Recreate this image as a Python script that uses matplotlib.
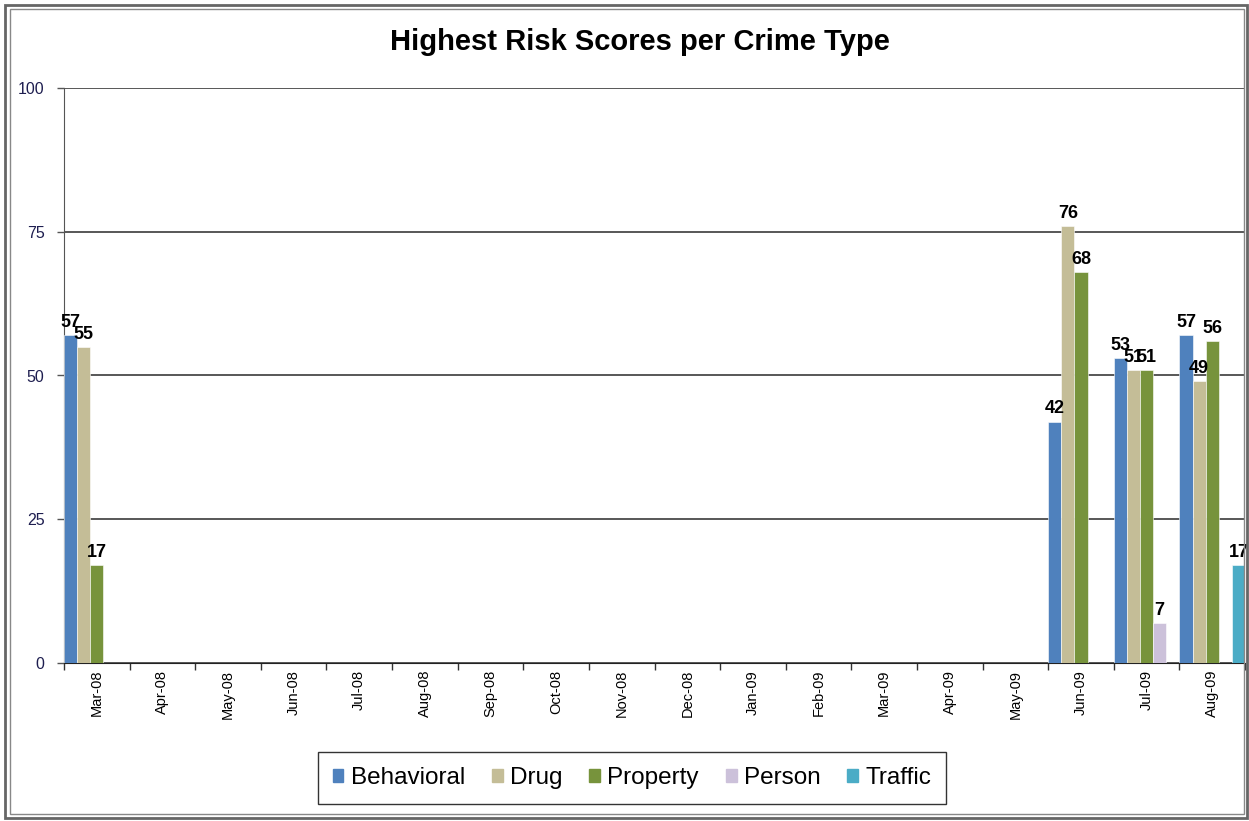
import matplotlib
matplotlib.use("Agg")
import matplotlib.pyplot as plt
import matplotlib.patches as mpatches
import numpy as np

plt.rcParams["font.family"] = ["Liberation Sans", "DejaVu Sans"]

months = ["Mar-08", "Apr-08", "May-08", "Jun-08", "Jul-08", "Aug-08", "Sep-08",
          "Oct-08", "Nov-08", "Dec-08", "Jan-09", "Feb-09", "Mar-09", "Apr-09",
          "May-09", "Jun-09", "Jul-09", "Aug-09"]

N = None
behavioral = [57, N, N, N, N, N, N, N, N, N, N, N, N, N, N, 42, 53, 57]
drug = [55, N, N, N, N, N, N, N, N, N, N, N, N, N, N, 76, 51, 49]
prop = [17, N, N, N, N, N, N, N, N, N, N, N, N, N, N, 68, 51, 56]
person = [N, N, N, N, N, N, N, N, N, N, N, N, N, N, N, N, 7, N]
traffic = [N, N, N, N, N, N, N, N, N, N, N, N, N, N, N, N, N, 17]

series = [
    ("Behavioral", behavioral, "#4F81BD"),
    ("Drug", drug, "#C4BD97"),
    ("Property", prop, "#77933C"),
    ("Person", person, "#CCC1DA"),
    ("Traffic", traffic, "#4BACC6"),
]

W, H = 1249, 821
fig = plt.figure(figsize=(W / 100, H / 100), dpi=100)
ax = fig.add_axes([64 / W, 1 - 663 / H, (1245 - 64) / W, (663 - 88) / H])

n = len(months)
x = np.arange(n)
bw = 1.0 / len(series)
handles = []
for i, (name, vals, col) in enumerate(series):
    v = np.array([np.nan if a is None else a for a in vals], dtype=float)
    pos = x - 0.5 + bw * (i + 0.5)
    bars = ax.bar(pos, np.nan_to_num(v), width=bw, color=col, edgecolor="white",
                  linewidth=0.4, zorder=3)
    for b, val in zip(bars, v):
        if not np.isnan(val):
            ax.annotate(f"{int(val)}", (b.get_x() + b.get_width() / 2, val),
                        xytext=(0, 3), textcoords="offset points",
                        ha="center", va="bottom", fontsize=13,
                        fontweight="bold", color="black", zorder=5)
    handles.append(mpatches.Patch(color=col, label=name))

ax.set_xlim(-0.5, n - 0.5)
ax.set_ylim(0, 100)
ax.set_yticks([0, 25, 50, 75, 100])
ax.yaxis.grid(True, color="#2a2a2a", linewidth=1.1, zorder=0)
ax.tick_params(axis="y", length=5, width=1, color="#555", pad=9,
               labelsize=11.5, labelcolor="#1e1e50")

ax.set_xticks(np.arange(n + 1) - 0.5)
ax.set_xticklabels([])
ax.tick_params(axis="x", which="major", length=5, width=1, color="#333")
ax.set_xticks(x, minor=True)
ax.set_xticklabels(months, minor=True, rotation=90, fontsize=10.5)
ax.tick_params(axis="x", which="minor", length=0, pad=5)

for s in ["top", "right"]:
    ax.spines[s].set_visible(False)
ax.spines["left"].set_color("#555")
ax.spines["bottom"].set_color("#222")

fig.text(640 / W, 1 - 42 / H, "Highest Risk Scores per Crime Type",
         ha="center", va="center", fontsize=21, fontweight="bold")

leg = fig.legend(handles=handles, loc="center", bbox_to_anchor=(632 / W, 1 - 778 / H),
                 ncol=5, fontsize=17.5, frameon=True, fancybox=False,
                 edgecolor="black", handlelength=0.45, handleheight=0.45,
                 handletextpad=0.3, columnspacing=1.1, borderpad=0.6,
                 borderaxespad=0)
leg.get_frame().set_linewidth(1.0)

# double border around the chart
fig.patches.append(mpatches.Rectangle((5 / W, 3 / H), (1247 - 5) / W, (816 - 3) / H,
                                      transform=fig.transFigure, fill=False,
                                      edgecolor="#666", linewidth=2))
fig.patches.append(mpatches.Rectangle((9.5 / W, 7 / H), (1244 - 9.5) / W, (812 - 7) / H,
                                      transform=fig.transFigure, fill=False,
                                      edgecolor="#888", linewidth=1))

fig.savefig("out.png", dpi=100)
